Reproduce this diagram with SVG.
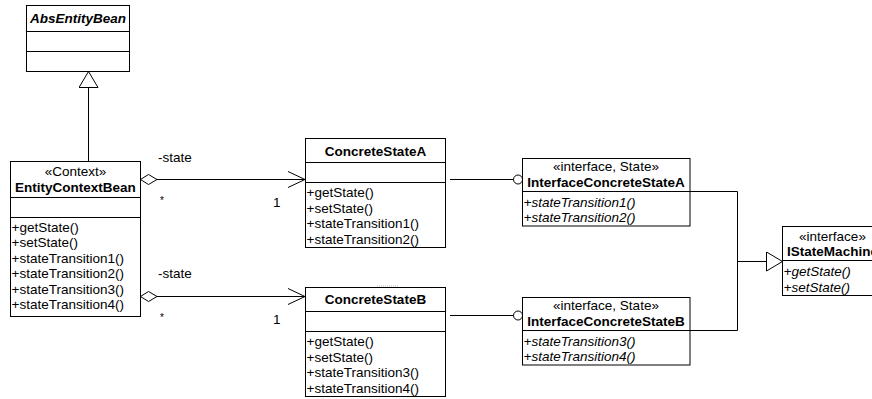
<svg xmlns="http://www.w3.org/2000/svg" width="872" height="399" viewBox="0 0 872 399">
  <style>
    text { font-family: "Liberation Sans", Arial, sans-serif; font-size: 13.5px; fill: #000; }
    .b { font-weight: bold; }
    .i { font-style: italic; }
    .c { text-anchor: middle; }
    .box { fill: #fff; stroke: #000; stroke-width: 1; }
    .ln { fill: none; stroke: #000; stroke-width: 1; }
    .mult { font-size: 10px; }
  </style>
  <defs>
    <!-- hollow triangle head for generalization -->
    <marker id="gen" viewBox="0 0 17 20" refX="16.5" refY="10" markerWidth="17" markerHeight="20" markerUnits="userSpaceOnUse" orient="auto">
      <path d="M0.5,0.5 L16.5,10 L0.5,19.5 Z" fill="#fff" stroke="#000" stroke-width="1"/>
    </marker>
    <!-- open arrow head for navigable association -->
    <marker id="open" viewBox="0 0 18 18" refX="17" refY="9" markerWidth="18" markerHeight="18" markerUnits="userSpaceOnUse" orient="auto">
      <path d="M0,1 L17,9 L0,17" fill="none" stroke="#000" stroke-width="1"/>
    </marker>
    <!-- hollow diamond for aggregation -->
    <marker id="agg" viewBox="0 0 18 12" refX="0.5" refY="6" markerWidth="18" markerHeight="12" markerUnits="userSpaceOnUse" orient="auto">
      <path d="M0.5,6 L8.5,1 L17,6 L8.5,11 Z" fill="#fff" stroke="#000" stroke-width="1"/>
    </marker>
  </defs>

  <!-- connectors -->
  <g id="connectors">
    <!-- EntityContextBean extends AbsEntityBean -->
    <path class="ln" d="M88.5,161 L88.5,71.5" marker-end="url(#gen)"/>
    <!-- state associations -->
    <path class="ln" d="M140.5,179.5 L305,179.5" marker-start="url(#agg)" marker-end="url(#open)"/>
    <path class="ln" d="M140.5,296.5 L305,296.5" marker-start="url(#agg)" marker-end="url(#open)"/>
    <!-- provided interfaces (lollipops) -->
    <path class="ln" d="M450,179.5 L513.5,179.5"/>
    <circle cx="518" cy="179.5" r="4.5" fill="#fff" stroke="#000" stroke-width="1"/>
    <path class="ln" d="M450,315.5 L513.5,315.5"/>
    <circle cx="518" cy="315.5" r="4.5" fill="#fff" stroke="#000" stroke-width="1"/>
    <!-- interfaces extend IStateMachine -->
    <path class="ln" d="M690,191.5 L737.5,191.5 L737.5,330.5 L690,330.5"/>
    <path class="ln" d="M737.5,261.5 L782.5,261.5" marker-end="url(#gen)"/>
    <!-- association labels -->
    <text x="158" y="161.5">-state</text>
    <text class="mult" x="160" y="204">*</text>
    <text x="273" y="206.5">1</text>
    <text x="158" y="277.5">-state</text>
    <text class="mult" x="160" y="321">*</text>
    <text x="273" y="324">1</text>
  </g>

  <g id="AbsEntityBean">
    <rect class="box" x="26.5" y="5.5" width="103" height="66"/>
    <line class="ln" x1="26.5" y1="31.5" x2="129.5" y2="31.5"/>
    <line class="ln" x1="26.5" y1="51.5" x2="129.5" y2="51.5"/>
    <text class="b i c" x="78" y="23">AbsEntityBean</text>
  </g>

  <g id="EntityContextBean">
    <rect class="box" x="10.5" y="161.5" width="130" height="155"/>
    <line class="ln" x1="10.5" y1="197.5" x2="140.5" y2="197.5"/>
    <line class="ln" x1="10.5" y1="217.5" x2="140.5" y2="217.5"/>
    <text class="c" x="75.5" y="175.5">«Context»</text>
    <text class="b c" x="75.5" y="192">EntityContextBean</text>
    <text x="11.5" y="232">+getState()</text>
    <text x="11.5" y="247.4">+setState()</text>
    <text x="11.5" y="262.8">+stateTransition1()</text>
    <text x="11.5" y="278.2">+stateTransition2()</text>
    <text x="11.5" y="293.6">+stateTransition3()</text>
    <text x="11.5" y="309">+stateTransition4()</text>
  </g>

  <g id="ConcreteStateA">
    <rect class="box" x="305.5" y="138.5" width="140" height="109"/>
    <line class="ln" x1="305.5" y1="162.5" x2="445.5" y2="162.5"/>
    <line class="ln" x1="305.5" y1="182.5" x2="445.5" y2="182.5"/>
    <text class="b c" x="375.5" y="155.5">ConcreteStateA</text>
    <text x="306.5" y="197">+getState()</text>
    <text x="306.5" y="212.5">+setState()</text>
    <text x="306.5" y="228">+stateTransition1()</text>
    <text x="306.5" y="243.5">+stateTransition2()</text>
  </g>

  <g id="ConcreteStateB">
    <line x1="377" y1="286" x2="398" y2="286" stroke="#bbb" stroke-width="1" stroke-dasharray="1 1"/>
    <rect class="box" x="305.5" y="287.5" width="140" height="109"/>
    <line class="ln" x1="305.5" y1="311.5" x2="445.5" y2="311.5"/>
    <line class="ln" x1="305.5" y1="331.5" x2="445.5" y2="331.5"/>
    <text class="b c" x="375.5" y="304">ConcreteStateB</text>
    <text x="306.5" y="346">+getState()</text>
    <text x="306.5" y="361.5">+setState()</text>
    <text x="306.5" y="377">+stateTransition3()</text>
    <text x="306.5" y="392.5">+stateTransition4()</text>
  </g>

  <g id="InterfaceConcreteStateA">
    <rect class="box" x="522.5" y="158.5" width="167.5" height="67.5"/>
    <line class="ln" x1="522.5" y1="191.5" x2="690" y2="191.5"/>
    <text class="c" x="606" y="170.5">«interface, State»</text>
    <text class="b c" x="606" y="186.5">InterfaceConcreteStateA</text>
    <text class="i" x="523.5" y="206.5">+stateTransition1()</text>
    <text class="i" x="523.5" y="221.5">+stateTransition2()</text>
  </g>

  <g id="InterfaceConcreteStateB">
    <rect class="box" x="522.5" y="297.5" width="167.5" height="67.5"/>
    <line class="ln" x1="522.5" y1="330.5" x2="690" y2="330.5"/>
    <text class="c" x="606" y="309.5">«interface, State»</text>
    <text class="b c" x="606" y="325.5">InterfaceConcreteStateB</text>
    <text class="i" x="523.5" y="345.5">+stateTransition3()</text>
    <text class="i" x="523.5" y="360.5">+stateTransition4()</text>
  </g>

  <g id="IStateMachine">
    <rect class="box" x="782.5" y="226.5" width="100" height="69"/>
    <line class="ln" x1="782.5" y1="260.5" x2="882.5" y2="260.5"/>
    <text class="c" x="832.5" y="240.5">«interface»</text>
    <text class="b c" x="832.5" y="256">IStateMachine</text>
    <text class="i" x="783.5" y="275.5">+getState()</text>
    <text class="i" x="783.5" y="291.5">+setState()</text>
  </g>
</svg>
